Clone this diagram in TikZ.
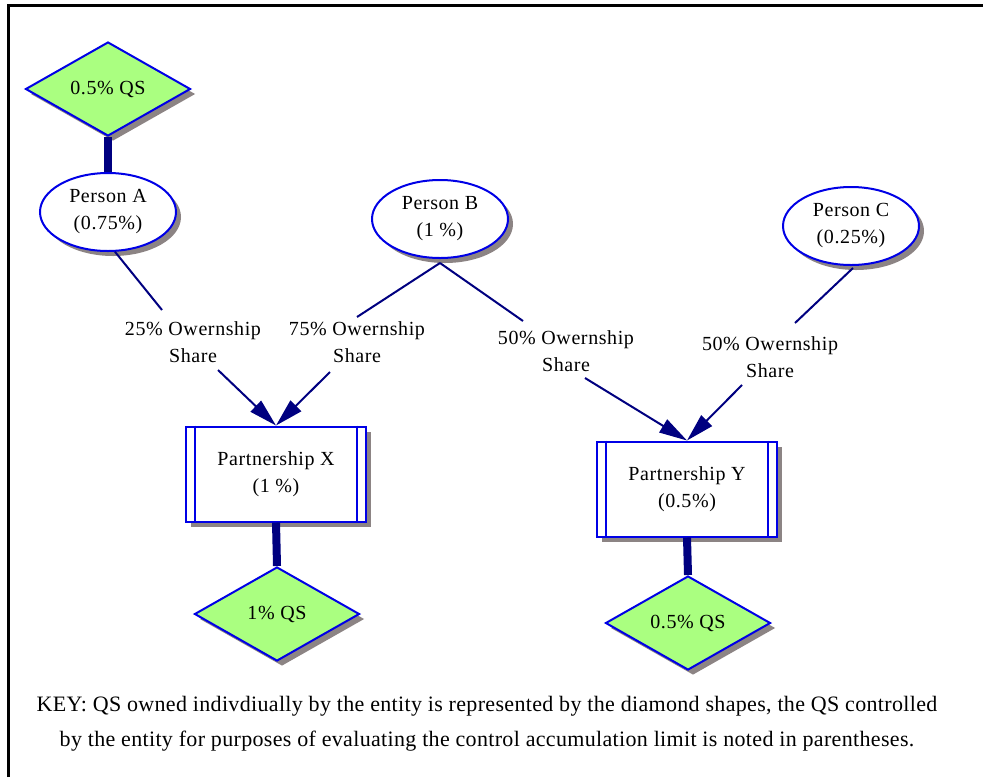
\documentclass[tikz,border=0pt]{standalone}
\usepackage{fontspec}
\setmainfont{Liberation Serif}
\newfontfamily\spacedfont[LetterSpace=3]{Liberation Serif}
\newfontfamily\keyfont[LetterSpace=1.5]{Liberation Serif}
\usetikzlibrary{shapes.geometric,arrows.meta,shadows,calc}
\definecolor{edgeblue}{RGB}{0,0,230}
\definecolor{linknavy}{RGB}{0,0,128}
\definecolor{qsgreen}{RGB}{170,255,128}
\definecolor{shadowgray}{RGB}{140,132,132}
\begin{document}
\begin{tikzpicture}[x=0.5pt,y=-0.5pt,
  txt/.style={font=\spacedfont\fontsize{10}{13.5}\selectfont, align=center, text=black},
  shade/.style={drop shadow={shadow xshift=2.5pt, shadow yshift=-2.5pt, fill=shadowgray, opacity=1}},
  qs/.style={shape=diamond, draw=edgeblue, line width=1pt, fill=qsgreen, shade, txt,
    minimum width=82.5pt, minimum height=47pt, inner sep=0pt},
  person/.style={ellipse, draw=edgeblue, line width=1pt, fill=white, shade, txt,
    minimum width=68pt, minimum height=39pt, inner sep=0pt},
  firm/.style={rectangle, draw=edgeblue, line width=1pt, fill=white, shade, txt,
    minimum width=90pt, minimum height=47.5pt, inner sep=0pt},
  lbl/.style={txt, inner sep=0pt},
  link/.style={draw=linknavy, line width=1pt},
  arrowlink/.style={link, -{Triangle[length=14pt,width=7.5pt]}},
  stem/.style={draw=linknavy, line width=4pt}
]
\useasboundingbox (0,0) rectangle (983,777);
\fill[white] (0,0) rectangle (983,777);

% frame
\draw[line width=1.5pt] (8,777) -- (8,5) -- (983,5);

% persons and their holdings
\node[qs] (qsA) at (108,89) {0.5\% QS};
\node[person] (pA) at (108,212) {Person A\\(0.75\%)};
\node[person] (pB) at (440,219) {Person B\\(1 \%)};
\node[person] (pC) at (851,226) {Person C\\(0.25\%)};

% partnerships
\node[firm] (fX) at (276,474) {Partnership X\\(1 \%)};
\node[firm] (fY) at (687,489) {Partnership Y\\(0.5\%)};
\foreach \f in {fX,fY}{
  \draw[edgeblue, line width=1pt] ([xshift=5pt]\f.north west) -- ([xshift=5pt]\f.south west);
  \draw[edgeblue, line width=1pt] ([xshift=-5pt]\f.north east) -- ([xshift=-5pt]\f.south east);
}
\node[qs] (qsX) at (277,614) {1\% QS};
\node[qs] (qsY) at (688,623) {0.5\% QS};

% ownership labels
\node[lbl] (oA) at (193,342) {25\% Owernship\\Share};
\node[lbl] (oB1) at (357,342) {75\% Owernship\\Share};
\node[lbl] (oB2) at (566,351) {50\% Owernship\\Share};
\node[lbl] (oC) at (770,357) {50\% Owernship\\Share};

% connector ends near the labels
\coordinate (oAin) at (162,310);
\coordinate (oAout) at (218,370);
\coordinate (oB1in) at (357,317);
\coordinate (oB1out) at (330,372);
\coordinate (oB2in) at (523,321);
\coordinate (oB2out) at (585,378);
\coordinate (oCin) at (795,323);
\coordinate (oCout) at (742,385);
\coordinate (pBfork) at (440,263);
\coordinate (pCfoot) at (853,268);

% holding stems
\draw[stem] (qsA.south) -- (pA.north);
\draw[stem] (fX.south) -- (qsX.north);
\draw[stem] (fY.south) -- (qsY.north);

% ownership connectors
\draw[link] (pA.-80) -- (oAin);
\draw[arrowlink] (oAout) -- (fX.north);
\draw[link] (pBfork) -- (oB1in);
\draw[arrowlink] (oB1out) -- (fX.north);
\draw[link] (pBfork) -- (oB2in);
\draw[arrowlink] (oB2out) -- (fY.north);
\draw[link] (pCfoot) -- (oCin);
\draw[arrowlink] (oCout) -- (fY.north);

% key
\node[align=center, font=\keyfont\fontsize{11}{17.5}\selectfont] (key) at (487,724)
  {KEY: QS owned indivdiually by the entity is represented by the diamond shapes, the QS controlled\\
   by the entity for purposes of evaluating the control accumulation limit is noted in parentheses.};
\end{tikzpicture}
\end{document}
